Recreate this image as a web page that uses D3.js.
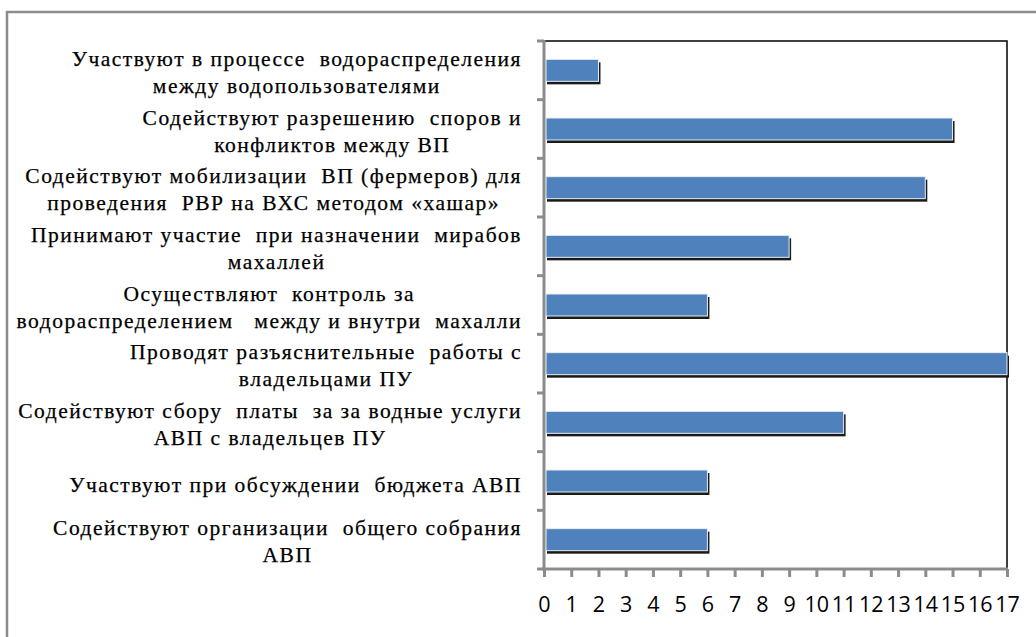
<!DOCTYPE html>
<html>
<head>
<meta charset="utf-8">
<script src="https://cdn.jsdelivr.net/npm/d3@7"></script>
<style>
  body { margin: 0; background: #fff; }
  .cat { font-family: "Liberation Serif", "Times New Roman", serif; font-size: 21.5px; letter-spacing: 1.5px; fill: #000; stroke: #000; stroke-width: 0.25px; white-space: pre; }
  .tick-lab { font-family: "Open Sans", sans-serif; font-size: 21.5px; fill: #000; }
</style>
</head>
<body>
<svg id="chart" width="1036" height="637"></svg>
<script>
// categories top to bottom, each split into its lines
var categories = [
  ["Участвуют в процессе  водораспределения", "между водопользователями"],
  ["Содействуют разрешению  споров и", "конфликтов между ВП"],
  ["Содействуют мобилизации  ВП (фермеров) для", "проведения  РВР на ВХС методом «хашар»"],
  ["Принимают участие  при назначении  мирабов", "махаллей"],
  ["Осуществляют  контроль за", "водораспределением   между и внутри  махалли"],
  ["Проводят разъяснительные  работы с", "владельцами ПУ"],
  ["Содействуют сбору  платы  за за водные услуги", "АВП с владельцев ПУ"],
  ["Участвуют при обсуждении  бюджета АВП"],
  ["Содействуют организации  общего собрания", "АВП"]
];
var values = [2, 15, 14, 9, 6, 17, 11, 6, 6];
var xTicks = d3.range(0, 18);

var margin = {top: 41, right: 29, bottom: 68, left: 544},
    width = 1036 - margin.left - margin.right,
    height = 637 - margin.top - margin.bottom;

var svg = d3.select("#chart");

// outer chart frame
svg.append("rect")
    .attr("x", 7).attr("y", 12)
    .attr("width", 1040).attr("height", 640)
    .attr("fill", "#fff")
    .attr("stroke", "#8c8c8c")
    .attr("stroke-width", 2.5);

var x = d3.scaleLinear().domain([0, 17]).range([0, width]);
var y = d3.scaleBand().domain(d3.range(categories.length)).range([0, height]).paddingInner(0.625).paddingOuter(0.3125);
var yBand = d3.scaleBand().domain(d3.range(categories.length)).range([0, height]);

var g = svg.append("g")
    .attr("transform", "translate(" + margin.left + "," + margin.top + ")");

// top and right border of plot area
g.append("path")
    .attr("d", "M0,0H" + width + "V" + height)
    .attr("fill", "none")
    .attr("stroke", "#000")
    .attr("stroke-width", 1.5);

// bars with a dark drop shadow
var bars = g.selectAll(".bar")
    .data(values)
  .enter().append("g")
    .attr("class", "bar");

bars.append("rect")
    .attr("x", 3)
    .attr("y", function(d, i) { return y(i) + 3; })
    .attr("width", function(d) { return x(d) - 1; })
    .attr("height", y.bandwidth())
    .attr("fill", "#1a1a1a");

bars.append("rect")
    .attr("x", 2)
    .attr("y", function(d, i) { return y(i); })
    .attr("width", function(d) { return x(d) - 2; })
    .attr("height", y.bandwidth())
    .attr("fill", "#4f81bd")
    .attr("stroke", "#e8eef6")
    .attr("stroke-width", 1);

// x axis
var xAxis = d3.axisBottom(x).tickValues(xTicks).tickSize(8).tickFormat(d3.format("d"));
var gx = g.append("g")
    .attr("transform", "translate(0," + height + ")")
    .call(xAxis);
gx.attr("font-family", null).attr("font-size", null);
gx.select(".domain").attr("stroke", "#8c8c8c").attr("stroke-width", 3).attr("d", "M-2,0H" + (width + 1));
gx.selectAll(".tick line").attr("stroke", "#8c8c8c").attr("stroke-width", 3);
gx.selectAll(".tick text").attr("class", "tick-lab").attr("dy", null).attr("y", 43);

// y axis: ticks at category boundaries
var gy = g.append("g");
gy.append("line")
    .attr("x1", 0).attr("x2", 0)
    .attr("y1", -1).attr("y2", height + 1)
    .attr("stroke", "#8c8c8c").attr("stroke-width", 3);
gy.selectAll(".ytick")
    .data(d3.range(categories.length + 1))
  .enter().append("line")
    .attr("x1", -7).attr("x2", 0)
    .attr("y1", function(d) { return d * yBand.step(); })
    .attr("y2", function(d) { return d * yBand.step(); })
    .attr("stroke", "#8c8c8c").attr("stroke-width", 3);

// category labels: lines centered in a block right-aligned to the axis
var lineH = 27, rightEdge = 522 - margin.left;
var labs = g.selectAll(".cat")
    .data(categories)
  .enter().append("text")
    .attr("class", "cat")
    .attr("text-anchor", "middle");

labs.each(function(lines, i) {
  var t = d3.select(this);
  var cy = yBand(i) + yBand.bandwidth() / 2;
  var y0 = cy - (lines.length - 1) * lineH / 2 + 9 + (lines.length === 1 ? 2 : 0);
  lines.forEach(function(l, k) {
    t.append("tspan").attr("y", y0 + k * lineH).text(l);
  });
  var maxW = 0;
  t.selectAll("tspan").each(function() { maxW = Math.max(maxW, this.getComputedTextLength()); });
  t.selectAll("tspan").attr("x", rightEdge - maxW / 2);
});
</script>
</body>
</html>
